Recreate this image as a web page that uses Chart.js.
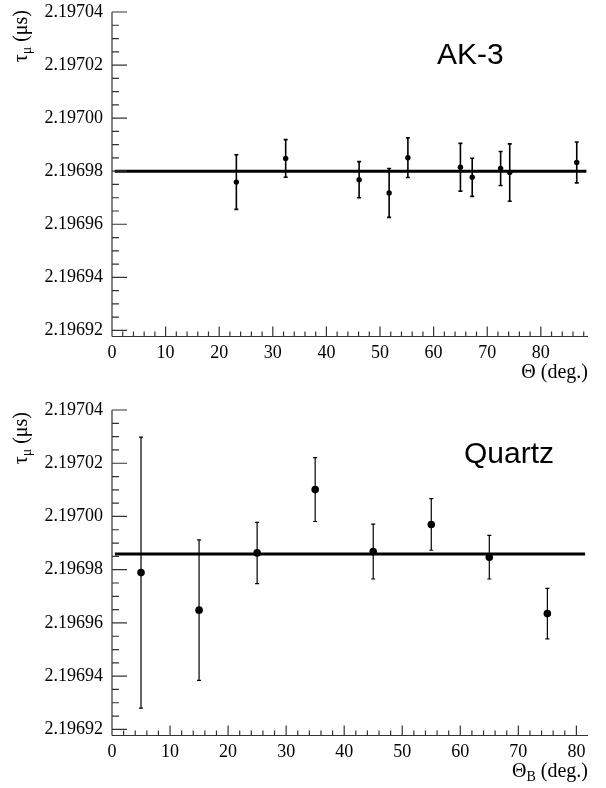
<!DOCTYPE html>
<html><head><meta charset="utf-8">
<script src="https://cdn.jsdelivr.net/npm/chart.js@4.4.0/dist/chart.umd.min.js"></script>
<style>
html,body{margin:0;padding:0;background:#fff;}
#wrap{position:relative;width:606px;height:788px;overflow:hidden;}
canvas{position:absolute;left:0;}
</style></head><body>
<div id="wrap">
<canvas id="c1" width="606" height="394" style="top:0px"></canvas>
<canvas id="c2" width="606" height="394" style="top:394px"></canvas>
</div>
<script>
// ---- data ----
const akAngles = [23.2, 32.4, 46.1, 51.7, 55.2, 65.0, 67.2, 72.5, 74.2, 86.7];
const akTau    = [2.1969759, 2.1969848, 2.1969768, 2.1969718, 2.1969851, 2.1969815, 2.1969777, 2.1969810, 2.1969795, 2.1969833];
const akErr    = [0.0000103, 0.0000071, 0.0000068, 0.0000092, 0.0000075, 0.0000090, 0.0000072, 0.0000064, 0.0000108, 0.0000077];
const akFit    = 2.19698;
const akFitRange = [0.5, 88.5];

const quartzAngles = [5, 15, 25, 35, 45, 55, 65, 75];
const quartzTau    = [2.1969789, 2.1969648, 2.1969863, 2.1970101, 2.1969868, 2.1969970, 2.1969847, 2.1969635];
const quartzErr    = [0.0000509, 0.0000264, 0.0000115, 0.0000120, 0.0000103, 0.0000097, 0.0000082, 0.0000095];
const quartzFit    = 2.1969859;
const quartzFitRange = [0.5, 81.5];

const yTickValues = [2.19692, 2.19694, 2.19696, 2.19698, 2.19700, 2.19702, 2.19704];
const xTickValues = [0, 10, 20, 30, 40, 50, 60, 70, 80];
const yMin = 2.1969177, yMax = 2.19704;
const akXMax = 88.8, quartzXMax = 82;

const SERIF = '"Liberation Serif", "DejaVu Serif", serif';
const SANS = '"Liberation Sans", Arial, sans-serif';

function rootPlugin(o) {
  return {
    id: 'root' + o.id,
    beforeDatasetsDraw(chart) {
      const ctx = chart.ctx, xs = chart.scales.x, ys = chart.scales.y;
      ctx.save();
      ctx.strokeStyle = '#000';
      ctx.lineWidth = o.errWidth;
      o.xs.forEach((xv, i) => {
        const px = xs.getPixelForValue(xv);
        const y1 = ys.getPixelForValue(o.ys[i] + o.errs[i]);
        const y2 = ys.getPixelForValue(o.ys[i] - o.errs[i]);
        ctx.beginPath();
        ctx.moveTo(px, y1); ctx.lineTo(px, y2);
        ctx.moveTo(px - o.cap, y1); ctx.lineTo(px + o.cap, y1);
        ctx.moveTo(px - o.cap, y2); ctx.lineTo(px + o.cap, y2);
        ctx.stroke();
      });
      ctx.restore();
    },
    afterDraw(chart) {
      const ctx = chart.ctx, xs = chart.scales.x, ys = chart.scales.y;
      const a = chart.chartArea;
      const L = a.left, B = a.bottom, T = ys.getPixelForValue(yMax), R = a.right;
      ctx.save();
      ctx.strokeStyle = '#333';
      ctx.lineWidth = 1.2;
      ctx.beginPath();
      ctx.moveTo(L, T); ctx.lineTo(L, B);
      ctx.moveTo(L, B); ctx.lineTo(R, B);
      for (let k = 0; ; k++) {
        const v = 2.19692 + k * 0.000005;
        if (v > yMax + 1e-9) break;
        const py = ys.getPixelForValue(v);
        const major = (k % 4 === 0);
        ctx.moveTo(L, py); ctx.lineTo(L + (major ? 15 : 7), py);
      }
      for (let k = 0; ; k++) {
        const v = k * 2;
        if (v > o.xMax - 0.01) break;
        const px = xs.getPixelForValue(v);
        const major = (k % 5 === 0);
        ctx.moveTo(px, B); ctx.lineTo(px, B - (major ? 10 : 5));
      }
      ctx.stroke();

      ctx.fillStyle = '#000';
      ctx.font = '30px ' + SANS;
      ctx.textAlign = 'left';
      ctx.textBaseline = 'alphabetic';
      ctx.fillText(o.label, o.labelX, o.labelY);

      const big = '20px ' + SERIF, small = '14px ' + SERIF;
      ctx.font = big;
      const wT = ctx.measureText('\u0398').width;
      const wR = ctx.measureText(' (deg.)').width;
      ctx.font = small;
      const wS = o.xSub ? ctx.measureText(o.xSub).width : 0;
      let x0 = R - (wT + wS + wR);
      const by = B + 41.5;
      ctx.font = big;
      ctx.fillText('\u0398', x0, by);
      if (o.xSub) { ctx.font = small; ctx.fillText(o.xSub, x0 + wT, by + 4); }
      ctx.font = big;
      ctx.fillText(' (deg.)', x0 + wT + wS, by);

      ctx.save();
      ctx.translate(27, T + o.yTitleOff);
      ctx.rotate(-Math.PI / 2);
      ctx.font = big;
      const w1 = ctx.measureText('\u03c4').width;
      const w3 = ctx.measureText(' (\u03bcs)').width;
      ctx.font = small;
      const w2 = ctx.measureText('\u03bc').width;
      let u = -(w1 + w2 + w3);
      ctx.font = big; ctx.fillText('\u03c4', u, 0);
      ctx.font = small; ctx.fillText('\u03bc', u + w1, 4);
      ctx.font = big; ctx.fillText(' (\u03bcs)', u + w1 + w2, 0);
      ctx.restore();
      ctx.restore();
    }
  };
}

function makeChart(id, xsArr, ysArr, errs, fit, fitRange, xMax, padTop, xAxisH, pointR, o) {
  const ctx = document.getElementById(id).getContext('2d');
  return new Chart(ctx, {
    data: {
      datasets: [
        {
          type: 'line',
          data: [{x: fitRange[0], y: fit}, {x: fitRange[1], y: fit}],
          borderColor: '#000', borderWidth: 3, pointRadius: 0, fill: false, order: 2
        },
        {
          type: 'scatter',
          data: xsArr.map((x, i) => ({x: x, y: ysArr[i]})),
          backgroundColor: '#000', borderColor: '#000', pointRadius: pointR,
          pointBorderWidth: 0, order: 1
        }
      ]
    },
    options: {
      responsive: false,
      animation: false,
      devicePixelRatio: 1,
      layout: { padding: { left: 0, right: 18, top: padTop, bottom: 0 } },
      plugins: { legend: { display: false }, tooltip: { enabled: false }, title: { display: false } },
      scales: {
        x: {
          type: 'linear', min: 0, max: xMax, offset: false,
          grid: { display: false, drawTicks: false }, border: { display: false },
          afterBuildTicks: s => { s.ticks = xTickValues.map(v => ({ value: v })); },
          afterFit: s => { s.height = xAxisH; s.paddingLeft = 0; s.paddingRight = 0; },
          ticks: { autoSkip: false, maxRotation: 0, padding: 6, color: '#000',
                   font: { family: SERIF, size: 18 }, callback: v => String(v) }
        },
        y: {
          type: 'linear', min: yMin, max: yMax,
          grid: { display: false, drawTicks: false }, border: { display: false },
          afterBuildTicks: s => { s.ticks = yTickValues.map(v => ({ value: v })); },
          afterFit: s => { s.width = 112; s.paddingTop = 0; s.paddingBottom = 0; },
          ticks: { autoSkip: false, padding: 9, color: '#000',
                   font: { family: SERIF, size: 18 }, callback: v => Number(v).toFixed(5) }
        }
      }
    },
    plugins: [rootPlugin(Object.assign({ xs: xsArr, ys: ysArr, errs: errs, xMax: xMax }, o))]
  });
}

makeChart('c1', akAngles, akTau, akErr, akFit, akFitRange, akXMax, 12, 57.5, 2.7,
  { id: 'ak', errWidth: 1.6, cap: 2, label: 'AK-3', labelX: 437, labelY: 64, xSub: '', yTitleOff: -2 });
makeChart('c2', quartzAngles, quartzTau, quartzErr, quartzFit, quartzFitRange, quartzXMax, 16, 52.5, 3.8,
  { id: 'qz', errWidth: 1.2, cap: 2, label: 'Quartz', labelX: 464, labelY: 69, xSub: 'B', yTitleOff: 2 });
</script>
</body></html>
